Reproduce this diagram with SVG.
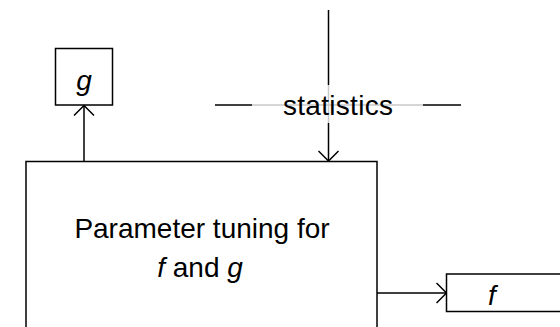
<svg xmlns="http://www.w3.org/2000/svg" width="560" height="327" viewBox="0 0 560 327">
<style>
.box{fill:#fff;stroke:#000;stroke-width:1.5}
.ln{fill:none;stroke:#000;stroke-width:1.5}
.gr{fill:none;stroke:#c8c8c8;stroke-width:1.5}
text{font-family:"Liberation Sans",Arial,sans-serif;font-size:28px;fill:#000;text-anchor:middle}
.it{font-style:italic}
</style>
<defs>
<marker id="ah" viewBox="0 0 12 22" refX="11" refY="11" markerWidth="12" markerHeight="22" markerUnits="userSpaceOnUse" orient="auto">
<path d="M1,1 L11,11 L1,21" fill="none" stroke="#000" stroke-width="1.5"/>
</marker>
</defs>
<rect width="560" height="327" fill="#fff"/>
<g id="connectors">
<line class="gr" x1="252" y1="105" x2="423" y2="105"/>
<line class="gr" x1="328.5" y1="85" x2="328.5" y2="123"/>
<line class="ln" x1="215" y1="105" x2="252" y2="105"/>
<line class="ln" x1="423" y1="105" x2="461" y2="105"/>
<line class="ln" x1="84" y1="161" x2="84" y2="105.5" marker-end="url(#ah)"/>
<line class="ln" x1="328.5" y1="10" x2="328.5" y2="85"/>
<line class="ln" x1="328.5" y1="123" x2="328.5" y2="161" marker-end="url(#ah)"/>
<line class="ln" x1="377" y1="293" x2="446.5" y2="293" marker-end="url(#ah)"/>
</g>
<g id="statistics">
<text x="338" y="115" textLength="110" lengthAdjust="spacing">statistics</text>
</g>
<g id="node-g">
<rect class="box" x="55.5" y="48.5" width="57" height="56.5"/>
<text class="it" x="84" y="90">g</text>
</g>
<g id="node-tuning">
<rect class="box" x="26" y="161.5" width="351" height="180"/>
<text x="202" y="238">Parameter tuning for</text>
<text x="200" y="277"><tspan class="it">f</tspan> and <tspan class="it">g</tspan></text>
</g>
<g id="node-f">
<rect class="box" x="446.5" y="274" width="130" height="37.5"/>
<text class="it" x="492" y="305">f</text>
</g>
</svg>
